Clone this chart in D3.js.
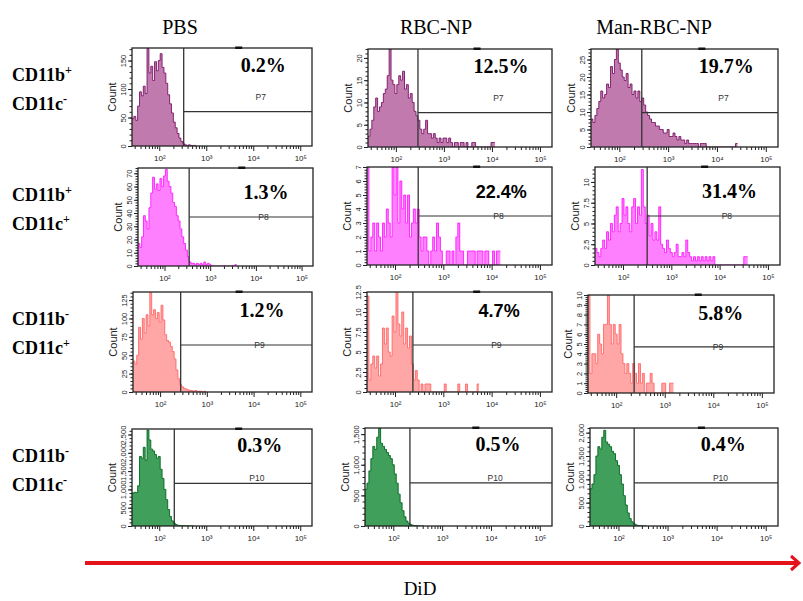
<!DOCTYPE html>
<html>
<head>
<meta charset="utf-8">
<script src="https://cdn.jsdelivr.net/npm/d3@7"></script>
<style>
  body { margin: 0; background: #fff; }
</style>
</head>
<body>
<div id="vis"></div>
<script>
// ---- data ----
const columns = ['PBS', 'RBC-NP', 'Man-RBC-NP']
const cd11b = ['+', '+', '-', '-']
const cd11c = ['-', '+', '+', '-']
const gateNames = ['P7', 'P8', 'P9', 'P10']
const percents = [
  ['0.2%', '12.5%', '19.7%'],
  ['1.3%', '22.4%', '31.4%'],
  ['1.2%', '4.7%', '5.8%'],
  ['0.3%', '0.5%', '0.4%']
]
const yMax = [[172, 22, 28], [74, 7, 11.8], [136, 12.5, 10], [2650, 1600, 2100]]
const yStep = [[50, 5, 5], [10, 1, 2.5], [25, 2.5, 1], [500, 500, 500]]
// gate position, log10 of DiD intensity
const gateLog = [[2.52, 2.46, 2.46], [2.54, 2.48, 2.5], [2.44, 2.37, 2.37], [2.32, 2.34, 2.32]]

// histogram counts, bins of 0.04 decade starting at 10^1.42
const r1PBS = [48, 52, 45, 70, 95, 88, 105, 92, 171, 128, 140, 115, 148, 132, 150, 162, 138, 128, 110, 90, 74, 58, 42, 32, 22, 14, 8, 4, 2, 1, 2, 1, 0, 1]
const r1RBC = [2.4, 4, 6, 9, 11, 8, 9, 10, 12, 13, 16, 22, 15, 14, 12, 14, 16, 15, 17, 13, 14, 11, 12, 10, 8, 7, 6, 4, 3, 4, 6, 3, 3, 2, 3, 2, 1, 2, 1, 2, 2, 1, 2, 1, 0, 1, 1, 0, 1, 1, 0, 1, 0, 0, 1, 1, 0, 0, 0, 0, 0, 0, 0, 0, 1, 1]
const r1Man = [8, 7, 9, 11, 13, 16, 14, 15, 18, 17, 23, 21, 25, 28, 24, 22, 20, 19, 21, 17, 18, 15, 16, 14, 16, 13, 14, 12, 10, 9, 8, 7, 7, 6, 6, 5, 5, 4, 4, 5, 3, 3, 4, 3, 2, 3, 2, 2, 1, 2, 1, 1, 1, 1, 1, 0, 1, 1, 1, 0, 0, 0, 0, 0, 0, 0, 0, 0, 0, 0, 0, 0, 0, 0, 1]
const r2PBS = [17, 14, 22, 38, 34, 28, 44, 55, 67, 58, 62, 57, 66, 60, 68, 73, 64, 60, 55, 48, 45, 38, 34, 28, 22, 17, 12, 7, 3, 2, 2, 1, 2, 1, 2, 1, 3, 1, 2, 1, 0, 0, 0, 0, 0, 0, 0, 0, 0, 0, 0, 0, 0, 1]
const r2RBC = [7, 1, 2, 3, 1, 3, 2, 1, 3, 2, 4, 3, 2, 7, 5, 7, 3, 6, 4, 5, 3, 5, 2, 3, 4, 3, 4, 2, 1, 2, 2, 1, 0, 1, 2, 1, 3, 2, 1, 0, 0, 1, 1, 0, 1, 0, 2, 3, 1, 1, 0, 0, 1, 1, 1, 1, 0, 1, 1, 1, 0, 1, 1, 0, 0, 1, 0, 1, 1]
const r2Man = [2, 1.5, 1, 2, 3, 2, 4, 3, 5, 4, 6, 7, 4, 5, 8, 6, 7, 5, 4, 7, 8, 5, 7, 6, 11.5, 7, 5, 6, 3.5, 5, 3, 4, 3, 7, 2.5, 2, 1.5, 3, 2, 1.5, 1, 1.5, 2.5, 1, 1, 1.5, 1, 3, 1.5, 1, 0.5, 1, 0.5, 1, 0.5, 1, 0.5, 1, 0.5, 1, 0.5, 1, 0, 0, 0, 0, 0, 0, 0, 0, 0, 0, 0, 0, 0, 0, 0, 1, 1]
const r3PBS = [42, 38, 50, 88, 72, 100, 80, 105, 90, 135, 105, 112, 100, 108, 95, 118, 98, 78, 70, 68, 62, 55, 45, 30, 18, 10, 7, 5, 4, 3, 2, 2, 1, 2, 1, 1, 1, 0, 1]
const r3RBC = [12, 1.5, 3.5, 4.5, 3, 4.5, 2, 3.5, 8, 6, 8, 5, 4.5, 9.5, 7.5, 12.4, 8.5, 7, 10, 6, 8, 5.5, 7, 3.5, 1.5, 2.7, 1.5, 0, 1, 0, 1, 1, 1, 0, 0, 0, 0, 0, 0, 0, 1, 0, 0, 0, 0, 0, 0, 1, 0, 0, 0, 1, 0, 0, 0, 0, 0, 1]
const r3Man = [10, 2, 4, 4, 3, 6, 5, 4, 7, 7, 10, 7, 5, 7, 6, 5, 7, 4, 3, 2, 3, 2, 1, 3, 2, 1, 3, 1, 2, 0, 1, 1, 2, 1, 0, 0, 0, 0, 1, 1, 0, 0, 1, 1]
const r4PBS = [900, 920, 910, 1100, 1900, 1850, 2150, 1800, 2620, 2350, 2100, 2050, 1950, 1850, 1900, 1550, 1300, 1000, 720, 450, 260, 140, 80, 40, 20, 15, 10, 8, 6, 5, 3, 2, 1]
const r4RBC = [600, 700, 900, 1100, 1300, 1250, 1450, 1600, 1350, 1300, 1250, 1200, 1150, 1100, 1000, 850, 700, 520, 380, 250, 150, 80, 45, 25, 12, 8, 5, 3, 2, 1]
const r4Man = [800, 900, 1100, 1500, 1700, 1650, 1900, 2050, 1800, 1750, 1700, 1600, 1550, 1400, 1300, 1100, 900, 650, 450, 280, 160, 90, 50, 25, 12, 6, 3, 2, 1]

const hist = [
  [r1PBS, r1RBC, r1Man],
  [r2PBS, r2RBC, r2Man],
  [r3PBS, r3RBC, r3Man],
  [r4PBS, r4RBC, r4Man]
]

// ---- layout ----
const W = 803, H = 601
const logStart = 1.42, logEnd = 5.25, binW = 0.04
const lefts = [[132, 368, 591], [138, 367, 595], [133, 367, 588], [132, 365, 590]]
const rights = [[312, 552, 778], [313, 552, 780], [312, 552, 774], [312, 552, 778]]
const tops = [[48, 49, 49], [168, 167, 167], [292, 292, 295], [429, 428, 428]]
const bottoms = [[146, 147, 147], [266, 265, 265], [392, 392, 393], [526, 526, 526]]
const gateLineFrac = [0.35, 0.5, 0.47, 0.44]
const gateLabelDy = [-12, 3, 3, -2]
const pctDy = [24, 31, 25, 23]
const pctSans = [[0, 0, 0], [0, 1, 0], [0, 1, 0], [0, 0, 0]]
const fills = ['#c07aad', '#ff80ff', '#ffa6a6', '#3f9f5b']
const strokes = ['#7a1466', '#ff1aff', '#ff6666', '#00661f']
const colTitleX = [180, 436, 654]

const serif = '"Liberation Serif", "Times New Roman", serif'
const sans = '"Liberation Sans", Arial, sans-serif'
const sup = { 2: '²', 3: '³', 4: '⁴', 5: '⁵' }

const svg = d3.select('#vis').append('svg')
  .attr('width', W).attr('height', H)
  .style('background', '#fff')

// column titles
svg.selectAll('.col-title').data(columns).enter().append('text')
  .attr('x', (d, i) => colTitleX[i]).attr('y', 34)
  .attr('text-anchor', 'middle')
  .attr('font-family', serif).attr('font-size', 20)
  .text(d => d)

// row labels
cd11b.forEach((b, r) => {
  const t = tops[r][0]
  const lines = [['CD11b', b, 33], ['CD11c', cd11c[r], 62]]
  lines.forEach(([name, sign, dy]) => {
    const txt = svg.append('text')
      .attr('x', 12).attr('y', t + dy)
      .attr('font-family', serif).attr('font-size', 18).attr('font-weight', 'bold')
    txt.append('tspan').text(name)
    txt.append('tspan').attr('dy', -7).attr('font-size', 12).text(sign)
  })
})

hist.forEach((row, r) => row.forEach((counts, c) => drawPanel(r, c, counts)))

function drawPanel(r, c, counts) {
  const L = lefts[r][c], R = rights[r][c], T = tops[r][c], B = bottoms[r][c]
  const x = d3.scaleLog().domain([10 ** logStart, 10 ** logEnd]).range([L, R])
  const y = d3.scaleLinear().domain([0, yMax[r][c]]).range([B, T])
  const g = svg.append('g')
  const clipId = 'clip' + r + c

  g.append('clipPath').attr('id', clipId)
    .append('rect').attr('x', L).attr('y', T).attr('width', R - L).attr('height', B - T)

  // step points for the histogram
  const pts = []
  counts.forEach((v, i) => {
    pts.push([10 ** (logStart + i * binW), v])
    pts.push([10 ** (logStart + (i + 1) * binW), v])
  })

  g.append('path').datum(pts)
    .attr('clip-path', `url(#${clipId})`)
    .attr('fill', fills[r])
    .attr('d', d3.area().x(d => x(d[0])).y0(B).y1(d => y(d[1])))

  g.append('path').datum(pts)
    .attr('clip-path', `url(#${clipId})`)
    .attr('fill', 'none')
    .attr('stroke', strokes[r]).attr('stroke-width', 0.9)
    .attr('d', d3.line().x(d => x(d[0])).y(d => y(d[1])))

  // frame
  g.append('rect')
    .attr('x', L).attr('y', T).attr('width', R - L).attr('height', B - T)
    .attr('fill', 'none').attr('stroke', '#222').attr('stroke-width', 1.3)
  g.append('rect')
    .attr('x', L + 0.59 * (R - L) - 3).attr('y', T - 1.5)
    .attr('width', 7).attr('height', 2.5).attr('fill', '#111')

  // gate
  const gx = x(10 ** gateLog[r][c])
  const gy = B - gateLineFrac[r] * (B - T)
  g.append('line')
    .attr('x1', gx).attr('x2', gx).attr('y1', T).attr('y2', B)
    .attr('stroke', '#333').attr('stroke-width', 1.3)
  g.append('line')
    .attr('x1', gx).attr('x2', R).attr('y1', gy).attr('y2', gy)
    .attr('stroke', '#333').attr('stroke-width', 1.2)
  g.append('text')
    .attr('x', gx + 0.6 * (R - gx)).attr('y', gy + gateLabelDy[r])
    .attr('text-anchor', 'middle')
    .attr('font-family', sans).attr('font-size', 8.5).attr('fill', '#333')
    .text(gateNames[r])

  const isSans = pctSans[r][c]
  g.append('text')
    .attr('x', gx + 0.62 * (R - gx)).attr('y', T + pctDy[r])
    .attr('text-anchor', 'middle')
    .attr('font-family', isSans ? sans : serif)
    .attr('font-size', isSans ? 18 : 20).attr('font-weight', 'bold')
    .text(percents[r][c])

  // x axis (log)
  const majors = [100, 1000, 10000, 100000]
  const minors = []
  for (let p = 1; p <= 5; p++) {
    for (let k = 2; k <= 9; k++) {
      const v = k * 10 ** p
      if (v >= 10 ** logStart && v <= 10 ** logEnd) minors.push(v)
    }
  }
  g.append('g').attr('transform', `translate(0,${B})`)
    .call(d3.axisBottom(x).tickValues(minors).tickSize(3).tickFormat(''))
    .call(a => a.select('.domain').remove())
    .call(a => a.selectAll('line').attr('stroke', '#222'))
  const xa = g.append('g').attr('transform', `translate(0,${B})`)
    .call(d3.axisBottom(x).tickValues(majors).tickSize(5).tickFormat(d => '10' + sup[Math.round(Math.log10(d))]))
    .call(a => a.select('.domain').remove())
  xa.selectAll('line').attr('stroke', '#222')
  xa.selectAll('text').attr('font-family', sans).attr('font-size', 8).attr('fill', '#222').attr('dy', '0.85em')

  // y axis
  const ymax = yMax[r][c], step = yStep[r][c]
  const yMaj = d3.range(0, ymax + 1e-6, step)
  const yMin = d3.range(0, ymax + 1e-6, step / 5)
  g.append('g').attr('transform', `translate(${L},0)`)
    .call(d3.axisLeft(y).tickValues(yMin).tickSize(2.5).tickFormat(''))
    .call(a => a.select('.domain').remove())
    .call(a => a.selectAll('line').attr('stroke', '#222'))
  const fmt = ymax > 1000 ? d3.format(',') : d3.format('~g')
  const ya = g.append('g').attr('transform', `translate(${L},0)`)
    .call(d3.axisLeft(y).tickValues(yMaj).tickSize(4).tickFormat(fmt))
    .call(a => a.select('.domain').remove())
  ya.selectAll('line').attr('stroke', '#222')
  ya.selectAll('text')
    .attr('x', 0).attr('dy', 0)
    .attr('text-anchor', 'middle')
    .attr('transform', 'translate(-6,0) rotate(-90)')
    .attr('font-family', sans).attr('font-size', 7.5).attr('fill', '#222')

  g.append('text')
    .attr('transform', `translate(${L - 16},${(T + B) / 2}) rotate(-90)`)
    .attr('text-anchor', 'middle')
    .attr('font-family', sans).attr('font-size', 11).attr('fill', '#222')
    .text('Count')
}

// DiD arrow
svg.append('line')
  .attr('x1', 85).attr('x2', 798).attr('y1', 563).attr('y2', 563)
  .attr('stroke', '#e3121b').attr('stroke-width', 4)
svg.append('path')
  .attr('d', 'M791,556 L799,563 L791,570')
  .attr('fill', 'none').attr('stroke', '#e3121b').attr('stroke-width', 3)
svg.append('text')
  .attr('x', 420).attr('y', 595)
  .attr('text-anchor', 'middle')
  .attr('font-family', serif).attr('font-size', 19)
  .text('DiD')
</script>
</body>
</html>
